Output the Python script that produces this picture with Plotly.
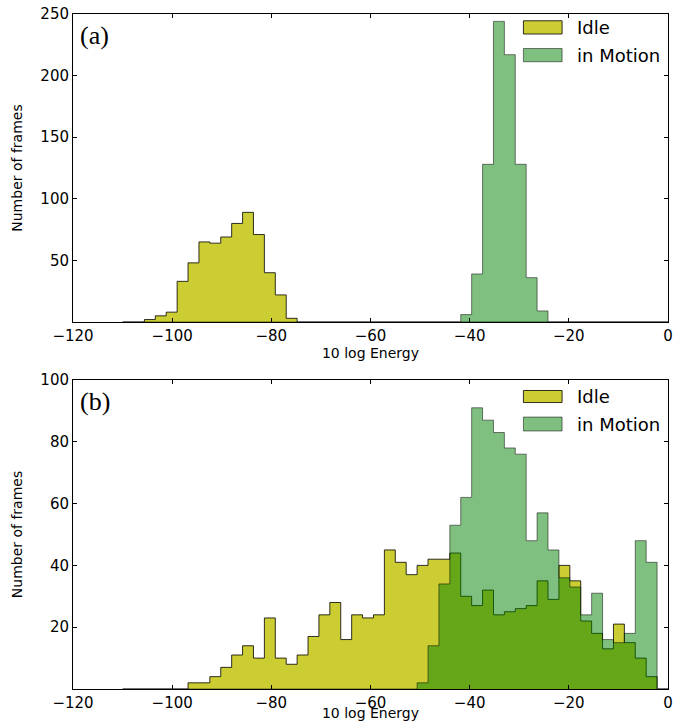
import numpy as np
import plotly.graph_objects as go

# ---- data ----
BIN_START = -110.0
BIN_WIDTH = 2.2
N_BINS = 50

# panel (a)
idle_a = [0, 0, 2, 5, 8, 33, 48, 65, 64, 69, 80, 89, 71, 40, 22, 3] + [0] * 34
motion_a = [0] * 31 + [6, 39, 128, 244, 217, 128, 36, 9] + [0] * 11

# panel (b)
idle_b = [0, 0, 0, 0, 0, 0, 2, 2, 4, 7, 11, 14, 10, 23, 10, 8, 11, 17, 24, 28,
          16, 24, 23, 24, 45, 41, 37, 40, 42, 42, 44, 30, 27, 32, 24, 25, 26, 27, 35, 29,
          40, 35, 22, 18, 13, 21, 15, 10, 4, 0]
motion_b = [0] * 27 + [2, 14, 34, 53, 62, 91, 87, 83, 78, 76, 48, 57, 45,
                       36, 33, 24, 31, 16, 15, 18, 48, 41, 0]

x_ticks = [-120, -100, -80, -60, -40, -20, 0]
y_ticks_a = [50, 100, 150, 200, 250]
y_ticks_b = [20, 40, 60, 80, 100]

names = ["Idle", "in Motion"]

# ---- styles ----
IDLE_FILL = "rgba(191,191,0,0.8)"
IDLE_LINE = "rgba(0,0,0,0.8)"
MOT_FILL = "rgba(0,128,0,0.5)"
MOT_LINE = "rgba(0,0,0,0.5)"
FONT = "DejaVu Sans"

edges = BIN_START + BIN_WIDTH * np.arange(N_BINS + 1)


def step_xy(counts):
    xs = np.concatenate([[edges[0]], edges[:-1], [edges[-1]]])
    ys = np.concatenate([[0], np.asarray(counts, float), [0]])
    return xs, ys


fig = go.Figure()
for counts, name, fc, lc, xa, ya in [
    (idle_a, names[0], IDLE_FILL, IDLE_LINE, "x", "y"),
    (motion_a, names[1], MOT_FILL, MOT_LINE, "x", "y"),
    (idle_b, names[0], IDLE_FILL, IDLE_LINE, "x2", "y2"),
    (motion_b, names[1], MOT_FILL, MOT_LINE, "x2", "y2"),
]:
    xs, ys = step_xy(counts)
    fig.add_trace(go.Scatter(
        x=xs, y=ys, mode="lines", line=dict(shape="hv", color=lc, width=1),
        fill="tozeroy", fillcolor=fc, name=name, showlegend=False,
        xaxis=xa, yaxis=ya, hoverinfo="skip"))

axis_common = dict(
    showline=True, linecolor="black", linewidth=1, mirror="ticks",
    ticks="inside", ticklen=4, tickcolor="black", showgrid=False, zeroline=False,
    automargin=False,
    tickfont=dict(family=FONT, size=15, color="black"),
)

TOP_DOM = [0.5437, 1.0]
BOT_DOM = [0.0, 0.4578]

xtitle = dict(text="10 log Energy", standoff=2,
              font=dict(family=FONT, size=14, color="black"))
ytitle = dict(text="Number of frames", standoff=14,
              font=dict(family=FONT, size=14, color="black"))

fig.update_layout(
    width=673, height=721,
    margin=dict(l=73, r=5, t=14, b=32),
    paper_bgcolor="white", plot_bgcolor="white",
    xaxis=dict(axis_common, domain=[0, 1], range=[-120, 0], tickvals=x_ticks,
               anchor="y", title=xtitle),
    yaxis=dict(axis_common, domain=TOP_DOM, range=[0, 250], tickvals=y_ticks_a,
               anchor="x", title=ytitle),
    xaxis2=dict(axis_common, domain=[0, 1], range=[-120, 0], tickvals=x_ticks,
                anchor="y2", title=xtitle),
    yaxis2=dict(axis_common, domain=BOT_DOM, range=[0, 100], tickvals=y_ticks_b,
                anchor="x2", title=ytitle),
    showlegend=False,
)

# panel letters
for ref, label in [("", "(a)"), ("2", "(b)")]:
    fig.add_annotation(
        xref=f"x{ref} domain", yref=f"y{ref} domain", x=0.008, y=0.93,
        xanchor="left", yanchor="middle", showarrow=False, text=label,
        font=dict(family="Liberation Serif", size=26, color="black"))

# legends (patch + label) for each panel
leg_pos = {
    "": [(0.978, 0.935), (0.888, 0.845)],
    "2": [(0.966, 0.927), (0.880, 0.835)],
}
for ref, rows in leg_pos.items():
    for (y1, y0), name, fc, lc in zip(rows, names, [IDLE_FILL, MOT_FILL],
                                      [IDLE_LINE, MOT_LINE]):
        fig.add_shape(type="rect", xref=f"x{ref} domain", yref=f"y{ref} domain",
                      x0=0.757, x1=0.822, y0=y0, y1=y1,
                      fillcolor=fc, line=dict(color=lc, width=1))
        fig.add_annotation(xref=f"x{ref} domain", yref=f"y{ref} domain",
                           x=0.843, y=(y0 + y1) / 2, xanchor="left",
                           yanchor="middle", showarrow=False, text=name,
                           font=dict(family=FONT, size=18, color="black"))

fig.write_html(
    "out.html",
    config={"displayModeBar": False},
    post_script="document.body.style.margin='0';document.body.style.overflow='hidden';",
)
